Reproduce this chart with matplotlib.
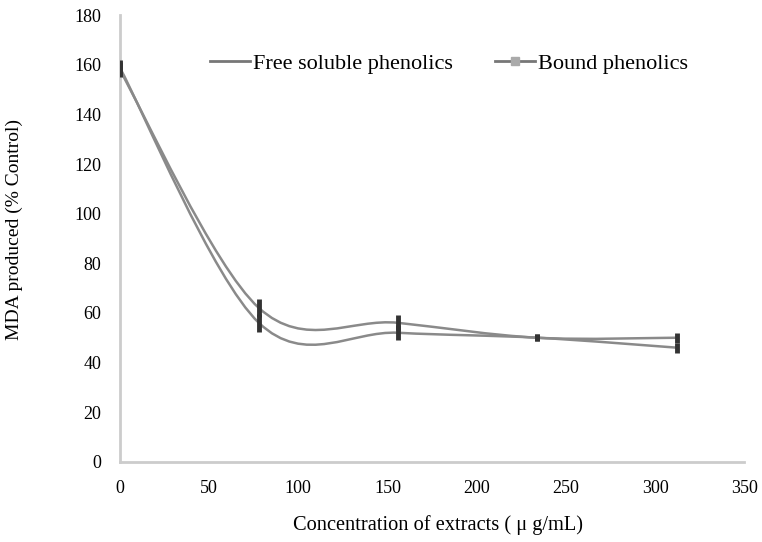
import numpy as np
import matplotlib.pyplot as plt
from matplotlib.path import Path
from matplotlib.patches import PathPatch

plt.rcParams['font.family'] = ['Liberation Serif', 'DejaVu Serif']

# data
conc = [0, 78, 156, 234, 312]
free_mda = [158, 62, 56, 50, 50]
free_err = [3, 3.5, 3, 1.5, 2]
bound_mda = [159, 56, 52, 50, 46]
bound_err = [3, 3.5, 3, 1.5, 2]

xticks = [0, 50, 100, 150, 200, 250, 300, 350]
yticks = [0, 20, 40, 60, 80, 100, 120, 140, 160, 180]


def smooth_path(x, y):
    # excel-like smoothed line (catmull-rom as cubic bezier)
    pts = np.column_stack([x, y]).astype(float)
    verts = [pts[0]]
    codes = [Path.MOVETO]
    n = len(pts)
    for i in range(n - 1):
        p0 = pts[i - 1] if i > 0 else pts[i]
        p1 = pts[i]
        p2 = pts[i + 1]
        p3 = pts[i + 2] if i + 2 < n else pts[i + 1]
        c1 = p1 + (p2 - p0) / 6
        c2 = p2 - (p3 - p1) / 6
        verts += [c1, c2, p2]
        codes += [Path.CURVE4] * 3
    return Path(verts, codes)


fig = plt.figure(figsize=(7.62, 5.42), dpi=100)
ax = fig.add_axes([0.157, 0.148, 0.82, 0.824])

for yv, err in [(free_mda, free_err), (bound_mda, bound_err)]:
    ax.add_patch(PathPatch(smooth_path(conc, yv), fill=False,
                           edgecolor='#8a8a8a', lw=1.8))
    ax.errorbar(conc, yv, yerr=err, fmt='none', ecolor='#333333',
                elinewidth=3.5, capsize=0, zorder=3)

# legend handles
ax.plot([], [], color='#777777', lw=2, label='Free soluble phenolics')
ax.plot([], [], color='#777777', lw=2, marker='s', ms=6,
        mfc='#aaaaaa', mec='#aaaaaa', label='Bound phenolics')
ax.legend(loc='center', bbox_to_anchor=(0.527, 0.891), ncol=2,
          frameon=False, fontsize=16, handlelength=1.8, columnspacing=1.9,
          handletextpad=0.15)

ax.set_xlim(0, 350)
ax.set_ylim(0, 180)
ax.set_xticks(xticks)
ax.set_yticks(yticks)
ax.tick_params(length=0, labelsize=13)
ax.tick_params(axis='x', pad=13)
ax.tick_params(axis='y', pad=13)
for s in ['top', 'right']:
    ax.spines[s].set_visible(False)
for s in ['left', 'bottom']:
    ax.spines[s].set_color('#cccccc')
    ax.spines[s].set_linewidth(2)

ax.set_xlabel('Concentration of extracts ( μ g/mL)', fontsize=14.7, labelpad=14)
ax.xaxis.set_label_coords(0.509, -0.12)
ax.set_ylabel('MDA produced (% Control)', fontsize=14, labelpad=0)
ax.yaxis.set_label_coords(-0.154, 0.519)

fig.savefig('out.png', dpi=100)
